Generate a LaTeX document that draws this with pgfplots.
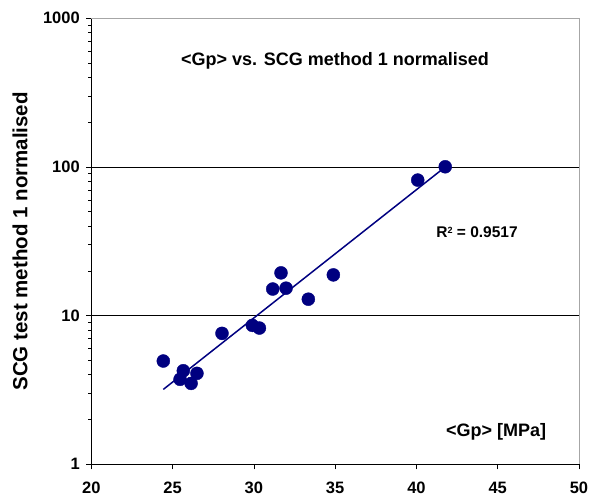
\documentclass[border=0pt]{standalone}
\usepackage{fontspec}
\setmainfont{Liberation Sans}
\usepackage{pgfplots}
\pgfplotsset{compat=1.18}

\definecolor{navy}{RGB}{0,0,128}

\begin{document}
\begin{tikzpicture}
% page = 589x503 px, plot area from (91.3,18.3) to (579,464.3)
\useasboundingbox (-91.3pt,-38.7pt) rectangle (497.7pt,464.3pt);
\begin{axis}[
  at={(0,0)}, anchor=south west,
  scale only axis,
  width=487.7pt, height=446pt,
  ymode=log,
  xmin=20, xmax=50, ymin=1, ymax=1000,
  xtick={20,25,30,35,40,45,50},
  ytick={1,10,100,1000},
  yticklabels={1,10,100,1000},
  minor ytick={},
  axis x line*=bottom, axis y line*=left,
  axis line style={black, line width=0.8pt, -},
  tick align=outside,
  major tick length=5pt,
  tick style={black, line width=0.6pt},
  /pgf/number format/assume math mode=true,
  tick label style={font=\fontsize{16.5}{19}\selectfont\bfseries},
  xticklabel style={yshift=-9pt},
  yticklabel style={xshift=-3pt},
  extra y ticks={10,100},
  extra y tick labels={},
  extra y tick style={grid=major, major grid style={black, line width=0.6pt}, tick style={draw=none}},
  ylabel={SCG test method 1 normalised},
  ylabel style={font=\fontsize{20.5}{24}\selectfont\bfseries, at={(axis description cs:-0.146,0.5)}, anchor=center},
  clip=false,
]
\draw[gray!70, line width=0.8pt] (rel axis cs:0,1) -- (rel axis cs:1,1) -- (rel axis cs:1,0);

\addplot[navy, line width=1.5pt] coordinates { (24.43,3.19) (41.66,97.8) };

\addplot[only marks, mark=*, mark size=6.5pt, mark options={fill=navy, draw=navy}] coordinates {
  (24.43,4.95) (25.46,3.73) (25.66,4.26) (26.14,3.50) (26.50,4.09)
  (28.04,7.60) (29.91,8.60) (30.34,8.25) (31.16,15.1) (31.67,19.4)
  (31.98,15.3) (33.35,12.9) (34.89,18.8) (40.08,81.6) (41.77,100.3)
};

\node[font=\fontsize{18}{21}\selectfont\bfseries] at (rel axis cs:0.4997,0.904) {<Gp> vs. SCG method 1 normalised};
\node[font=\fontsize{15.5}{18}\selectfont\bfseries] at (rel axis cs:0.791,0.521) {R\raisebox{0.5ex}{\fontsize{9}{10}\selectfont 2} = 0.9517};
\node[font=\fontsize{18}{21}\selectfont\bfseries] at (rel axis cs:0.830,0.0724) {<Gp> [MPa]};
\end{axis}
\end{tikzpicture}
\end{document}
